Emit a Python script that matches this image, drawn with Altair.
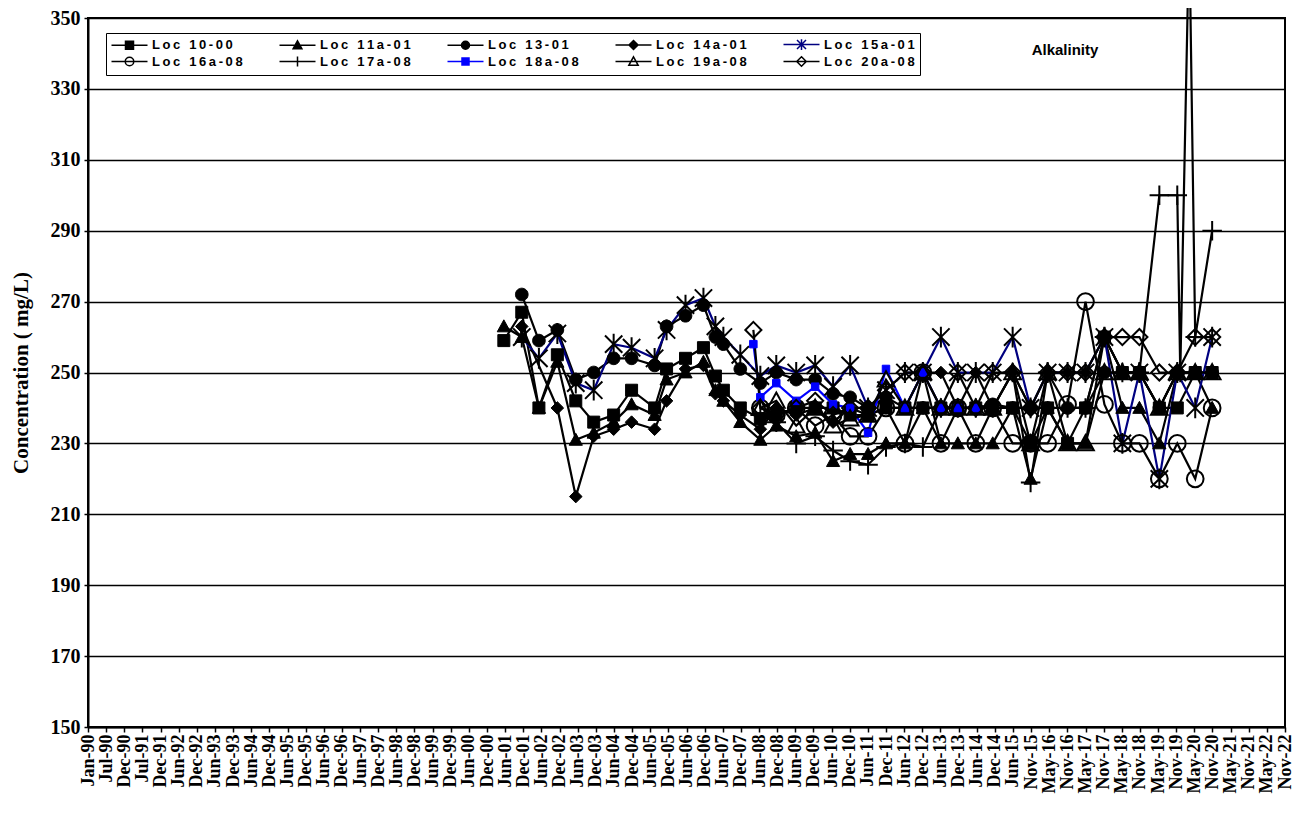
import altair as alt
import pandas as pd

SERIES = ["Loc 10-00", "Loc 11a-01", "Loc 13-01", "Loc 14a-01", "Loc 15a-01",
          "Loc 16a-08", "Loc 17a-08", "Loc 18a-08", "Loc 19a-08", "Loc 20a-08"]

DATES = ["2001-06-05", "2001-12-02", "2002-05-23", "2002-11-24", "2003-05-28", "2003-11-24",
         "2004-06-11", "2004-12-08", "2005-07-27", "2005-11-24", "2006-06-02", "2006-11-29",
         "2007-03-29", "2007-06-17", "2007-12-04", "2008-04-13", "2008-06-22", "2008-11-29",
         "2009-06-17", "2009-12-24", "2010-06-22", "2010-12-10", "2011-06-08", "2011-12-05",
         "2012-06-12", "2012-12-09", "2013-06-08", "2013-11-25", "2014-05-24", "2014-11-10",
         "2015-05-29", "2015-11-25", "2016-05-14", "2016-11-30", "2017-05-29", "2017-12-05",
         "2018-06-03", "2018-11-21", "2019-06-09", "2019-12-06", "2020-06-03", "2020-11-20"]

N = None
LOC_10_00 = [259, 267, 240, 255, 242, 236, 238, 245, 240, 251, 254, 257, 249, 245, 240, N,
             237, 238, 240, 240, 240, 238, 238, 240, 240, 240, 240, 240, 240, 240, 240, 230,
             240, 230, 240, 260, 250, 250, 240, 240, 250, 250]
LOC_11A_01 = [263, 260, 240, 253, 231, 233, 236, 241, 238, 248, 250, 253, 245, 242, 236, N,
              231, 235, 232, 233, 225, 227, 227, 230, 230, 240, 230, 230, 230, 230, 240, 220,
              240, 230, 230, 260, 240, 240, 230, 250, 250, 240]
LOC_13_01 = [N, 272, 259, 262, 248, 250, 254, 254, 252, 263, 266, 269, 260, 258, 251, N,
             247, 250, 248, 248, 244, 243, 240, 243, 240, 240, 240, 240, 240, 241, 240, 240,
             240, 240, 240, 250, 250, 250, 240, 250, 250, 250]
LOC_14A_01 = [N, 263, N, 240, 215, 232, 234, 236, 234, 242, 251, 252, 244, 242, 238, N,
              234, 240, 238, 240, 236, 240, 238, 240, 240, 250, 250, 240, 250, 240, 250, 240,
              250, 250, 250, 260, 250, 250, 240, 250, 250, 250]
LOC_15A_01 = [N, 260, 254, 261, 247, 245, 258, 257, 254, 262, 269, 271, 263, 260, 255, N,
              249, 252, 250, 252, 246, 252, 240, 245, 250, 250, 260, 250, 250, 250, 260, 240,
              250, 250, 250, 260, 230, 250, 220, 250, 240, 260]
LOC_16A_08 = [N] * 16 + [240, 238, 240, 235, 238, 232, 232, 240, 230, 250, 230, 240, 230, 240,
                         230, 230, 230, 241, 270, 241, 230, 230, 220, 230, 220, 240]
LOC_17A_08 = [N] * 16 + [238, 236, 230, 232, 228, 225, 224, 229, 230, 229, 240, 240, 240, 240,
                         250, 219, 250, 240, 240, 260, 250, 250, 300, 300, 260, 290]
LOC_17A_08_EXTRA_DATES = ["2020-01-05", "2020-04-04"]
LOC_17A_08_EXTRA_VALUES = [250, 375]
LOC_18A_08 = [N] * 15 + [258, 243, 247, 242, 246, 241, 240, 233, 251, 240, 250, 240, 240, 240] + [N] * 13
LOC_19A_08 = [N] * 16 + [240, 242, 235, 240, 235, 237, 238, 248, 240, 250, 240, 240, 240, 240,
                         250, 230, 250, 230, 230, 250, 250, 250, 240, 250, 250, 250]
LOC_20A_08 = [N] * 15 + [262, 240, 238, 240, 242, 238, 240, 240, 245, 250, 250, 240, 250, 240,
                         250, 250, 240, 250, 250, 250, 260, 260, 260, 250, 250, 260, 260]

VALUES = [LOC_10_00, LOC_11A_01, LOC_13_01, LOC_14A_01, LOC_15A_01,
          LOC_16A_08, LOC_17A_08, LOC_18A_08, LOC_19A_08, LOC_20A_08]

TICK_LABELS = ["Jan-90", "Jul-90", "Dec-90", "Jul-91", "Dec-91", "Jun-92", "Dec-92", "Jun-93",
               "Dec-93", "Jun-94", "Dec-94", "Jun-95", "Dec-95", "Jun-96", "Dec-96", "Jun-97",
               "Dec-97", "Jun-98", "Dec-98", "Jun-99", "Dec-99", "Jun-00", "Dec-00", "Jun-01",
               "Dec-01", "Jun-02", "Dec-02", "Jun-03", "Dec-03", "Jun-04", "Dec-04", "Jun-05",
               "Dec-05", "Jun-06", "Dec-06", "Jun-07", "Dec-07", "Jun-08", "Dec-08", "Jun-09",
               "Dec-09", "Jun-10", "Dec-10", "Jun-11", "Dec-11", "Jun-12", "Dec-12", "Jun-13",
               "Dec-13", "Jun-14", "Dec-14", "Jun-15", "Nov-15", "May-16", "Nov-16", "May-17",
               "Nov-17", "May-18", "Nov-18", "May-19", "Nov-19", "May-20", "Nov-20", "May-21",
               "Nov-21", "May-22", "Nov-22"]
TICK_STEP_DAYS = 182
Y_TICKS = list(range(150, 351, 20))
CHART_LABEL = ["Alkalinity"]


# ---------- marker styles ----------
def sq(r):
    return f"M{-r:g},{-r:g}H{r:g}V{r:g}H{-r:g}Z"


def tri(r):
    return f"M0,{-1.1*r:g}L{1.1*r:g},{0.9*r:g}H{-1.1*r:g}Z"


def circ(r):
    return f"M{-r:g},0A{r:g},{r:g},0,1,0,{r:g},0A{r:g},{r:g},0,1,0,{-r:g},0Z"


def dia(r):
    return f"M0,{-1.2*r:g}L{1.2*r:g},0L0,{1.2*r:g}L{-1.2*r:g},0Z"


def ast(r):
    return f"M{-r:g},{-r:g}L{r:g},{r:g}M{-r:g},{r:g}L{r:g},{-r:g}M0,{-1.2*r:g}V{1.2*r:g}"


def plus(r):
    return f"M{-r:g},0H{r:g}M0,{-r:g}V{r:g}"


SHAPE_FN = [sq, tri, circ, dia, ast, circ, plus, sq, tri, dia]
MARKER_FILL = ["black", "black", "black", "black", "transparent", "transparent",
               "transparent", "#0000ff", "transparent", "transparent"]
MARKER_STROKE = ["black"] * 7 + ["#0000ff", "black", "black"]
MARKER_SIZE = [144, 144, 160, 110, 300, 280, 380, 56, 230, 180]
MARKER_SW = [1, 1, 1, 1, 2, 2, 2, 1, 2, 2]
LINE_COLOR = ["black", "black", "black", "black", "#000080", "black", "black", "#0000ff", "black", "black"]
LEG_R = [0.8, 0.8, 0.8, 0.75, 0.9, 0.85, 1.0, 0.7, 0.85, 0.8]
LEGEND_PATHS = ["M-3.6,0H3.6" + fn(r) for fn, r in zip(SHAPE_FN, LEG_R)]
LEGEND_STROKE = ["black", "black", "black", "black", "#000080", "black", "black", "#0000ff", "black", "black"]

# ---------- table ----------
rows = []
for i, (name, vals) in enumerate(zip(SERIES, VALUES)):
    pts = [(d, v) for d, v in zip(DATES, vals) if v is not None]
    if name == "Loc 17a-08":
        pts += list(zip(LOC_17A_08_EXTRA_DATES, LOC_17A_08_EXTRA_VALUES))
    pts.sort()
    for d, v in pts:
        rows.append({"series": name, "leg": name, "date": d, "value": v,
                     "mpath": SHAPE_FN[i](1), "mfill": MARKER_FILL[i],
                     "mstroke": MARKER_STROKE[i], "msize": MARKER_SIZE[i], "msw": MARKER_SW[i]})
df = pd.DataFrame(rows)
df["days"] = (pd.to_datetime(df["date"]) - pd.Timestamp("1990-01-01")).dt.days

tick_values = [i * TICK_STEP_DAYS for i in range(len(TICK_LABELS))]
label_arr = "[" + ",".join(f"'{t}'" for t in TICK_LABELS) + "]"
label_expr = f"{label_arr}[round(datum.value/{TICK_STEP_DAYS})]"

x_enc = alt.X("days:Q",
              scale=alt.Scale(domain=[0, tick_values[-1]], nice=False, zero=False),
              axis=alt.Axis(values=tick_values, tickCount=200, labelExpr=label_expr, labelAngle=-90,
                            labelFont="Liberation Serif", labelFontWeight="bold", labelFontSize=18,
                            labelColor="black", labelOverlap=False, labelFlush=False, labelPadding=2,
                            tickColor="black", tickSize=5, tickWidth=1.5,
                            domainColor="black", domainWidth=2, grid=False),
              title=None)
y_enc = alt.Y("value:Q",
              scale=alt.Scale(domain=[150, 350], nice=False, zero=False),
              axis=alt.Axis(values=Y_TICKS, labelFont="Liberation Serif", labelFontWeight="bold",
                            labelFontSize=20, labelColor="black", labelPadding=4,
                            tickColor="black", tickSize=4, tickWidth=1.5,
                            domainColor="black", domainWidth=2,
                            grid=True, gridColor="black", gridWidth=1.5,
                            titleFont="Liberation Serif", titleFontWeight="bold", titleFontSize=21,
                            titleColor="black", titlePadding=19),
              title="Concentration ( mg/L)")

lines = alt.Chart(df).mark_line(strokeWidth=2.2).encode(
    x=x_enc, y=y_enc,
    color=alt.Color("series:N", scale=alt.Scale(domain=SERIES, range=LINE_COLOR), legend=None),
)

points = alt.Chart(df).mark_point(opacity=1).encode(
    x="days:Q", y="value:Q",
    shape=alt.Shape("mpath:N", scale=None, legend=None),
    fill=alt.Fill("mfill:N", scale=None, legend=None),
    stroke=alt.Stroke("mstroke:N", scale=None, legend=None),
    size=alt.Size("msize:Q", scale=None, legend=None),
    strokeWidth=alt.StrokeWidth("msw:Q", scale=None, legend=None),
    detail="series:N",
)

LEG_LABEL_EXPR = "join(split(datum.label, ''), '\u2009')"
leg = alt.Legend(title=None, labelExpr=LEG_LABEL_EXPR)
legend_layer = alt.Chart(df).mark_point(opacity=0, strokeWidth=1.5).encode(
    x="days:Q", y="value:Q",
    shape=alt.Shape("leg:N", scale=alt.Scale(domain=SERIES, range=LEGEND_PATHS), legend=leg),
    fill=alt.Fill("leg:N", scale=alt.Scale(domain=SERIES, range=MARKER_FILL), legend=leg),
    stroke=alt.Stroke("leg:N", scale=alt.Scale(domain=SERIES, range=LEGEND_STROKE), legend=leg),
)

label_layer = alt.Chart(pd.DataFrame({"t": CHART_LABEL})).mark_text(
    font="Liberation Sans", fontSize=15, fontWeight="bold", color="black",
    align="center", baseline="middle",
).encode(x=alt.value(977), y=alt.value(32), text="t:N")

chart = alt.layer(lines, points, legend_layer, label_layer).resolve_scale(
    shape="independent", fill="independent", stroke="independent",
    size="independent", strokeWidth="independent", color="independent",
).properties(
    width=1197, height=709,
    autosize=alt.AutoSizeParams(type="none"),
    padding={"left": 80, "top": 10, "right": 9, "bottom": 82},
    background="white",
).configure_view(stroke="black", strokeWidth=2).configure_legend(
    orient="none", legendX=18, legendY=15, columns=5, direction="horizontal",
    symbolSize=100, symbolOffset=12, labelOffset=16, symbolStrokeWidth=1.5, symbolOpacity=1,
    labelFont="Liberation Sans", labelFontWeight="bold", labelFontSize=13, labelColor="black",
    rowPadding=0, columnPadding=33, gridAlign="all", padding=5,
    strokeColor="black", strokeWidth=1, fillColor="white",
)

chart.save("out.html", embed_options={"renderer": "svg", "actions": False})
